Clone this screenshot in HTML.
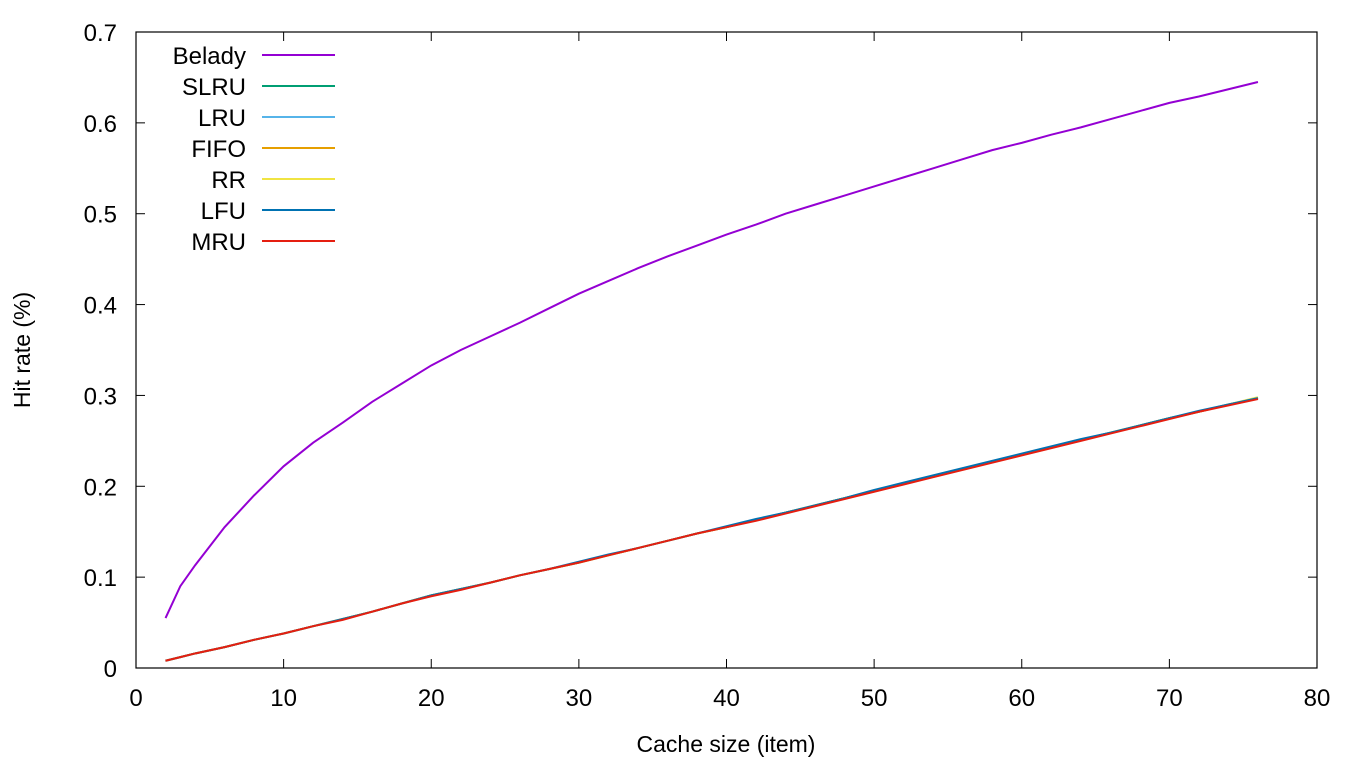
<!DOCTYPE html>
<html><head><meta charset="utf-8"><style>
body{margin:0;background:#fff;}
svg{display:block;font-family:"Liberation Sans","DejaVu Sans",sans-serif;}
</style></head><body>
<svg id="chart" width="1366" height="768"></svg>
<script>
const xTicks=[0,10,20,30,40,50,60,70,80];
const yTicks=[0,0.1,0.2,0.3,0.4,0.5,0.6,0.7];
const yTickLabels=["0","0.1","0.2","0.3","0.4","0.5","0.6","0.7"];
const cacheSizes=[2,3,4,6,8,10,12,14,16,18,20,22,24,26,28,30,32,34,36,38,40,42,44,46,48,50,52,54,56,58,60,62,64,66,68,70,72,74,76];
const belady=[.055,.09,.113,.155,.19,.222,.248,.27,.293,.313,.333,.35,.365,.38,.396,.412,.426,.44,.453,.465,.477,.488,.5,.51,.52,.53,.54,.55,.56,.57,.578,.587,.595,.604,.613,.622,.629,.637,.645];
const slru=[.008,.012,.016,.023,.031,.038,.046,.054,.062,.071,.08,.087,.094,.102,.109,.116,.124,.132,.14,.148,.155,.163,.171,.179,.187,.195,.203,.211,.219,.227,.235,.243,.251,.259,.267,.275,.282,.29,.297];
const lru=[.008,.012,.016,.023,.031,.038,.046,.054,.062,.071,.08,.087,.094,.102,.109,.116,.124,.132,.14,.148,.155,.163,.171,.179,.187,.195,.203,.211,.219,.227,.235,.243,.251,.259,.267,.275,.282,.29,.297];
const fifo=[.008,.012,.016,.023,.031,.038,.046,.054,.062,.071,.08,.087,.094,.102,.109,.116,.124,.132,.14,.148,.155,.163,.171,.179,.187,.195,.203,.211,.219,.227,.235,.243,.251,.259,.267,.275,.282,.29,.297];
const rr=[.008,.012,.016,.023,.031,.038,.046,.054,.062,.071,.08,.087,.094,.102,.109,.116,.124,.132,.14,.148,.155,.163,.171,.179,.187,.195,.203,.211,.219,.227,.235,.243,.251,.259,.267,.275,.282,.29,.298];
const lfu=[.008,.012,.016,.023,.031,.038,.046,.054,.062,.071,.08,.087,.094,.102,.109,.117,.125,.132,.14,.148,.156,.164,.171,.179,.187,.196,.204,.212,.22,.228,.236,.244,.252,.259,.267,.275,.283,.29,.297];
const mru=[.008,.012,.016,.023,.031,.038,.046,.053,.062,.071,.079,.086,.094,.102,.109,.116,.124,.132,.14,.148,.155,.162,.17,.178,.186,.194,.202,.21,.218,.226,.234,.242,.25,.258,.266,.274,.282,.289,.296];
const seriesNames=["Belady","SLRU","LRU","FIFO","RR","LFU","MRU"];
const seriesColors=["#9400d3","#009e73","#56b4e9","#e69f00","#f0e442","#0072b2","#e51e10"];
const seriesData=[belady,slru,lru,fifo,rr,lfu,mru];

const L=136,R=1317,T=32,B=668;
const sx=v=>L+(v-0)/(80-0)*(R-L);
const sy=v=>B-(v-0)/(0.7-0)*(B-T);
const NS="http://www.w3.org/2000/svg";
const svg=document.getElementById('chart');
function mk(tag,attrs,parent){const e=document.createElementNS(NS,tag);for(const k in attrs)e.setAttribute(k,attrs[k]);(parent||svg).appendChild(e);return e;}

xTicks.forEach(v=>{
  const x=sx(v);
  const t1=mk('line',{x1:x,y1:B,x2:x,y2:B-9,stroke:'#000','stroke-width':1});
  
  
  const t2=mk('line',{x1:x,y1:T,x2:x,y2:T+9,stroke:'#000','stroke-width':1});
  
  
  const tx=mk('text',{x:x,y:706,'text-anchor':'middle','font-size':24});
  tx.textContent=v;
  
  
});
yTicks.forEach((v,i)=>{
  const y=sy(v);
  const t1=mk('line',{x1:L,y1:y,x2:L+9,y2:y,stroke:'#000','stroke-width':1});
  
  
  const t2=mk('line',{x1:R,y1:y,x2:R-9,y2:y,stroke:'#000','stroke-width':1});
  
  
  const tx=mk('text',{x:117,y:y+9,'text-anchor':'end','font-size':24});
  tx.textContent=yTickLabels[i];
  
  
});
const frame=mk('rect',{x:L,y:T,width:R-L,height:B-T,fill:'none',stroke:'#000','stroke-width':1.2});



const xt=mk('text',{x:726,y:752,'text-anchor':'middle','font-size':23});
xt.textContent='Cache size (item)';


const yt=mk('text',{x:0,y:0,'text-anchor':'middle','font-size':23,transform:'translate(30,350) rotate(-90)'});
yt.textContent='Hit rate (%)';



seriesData.forEach((d,i)=>{
  const pts=d.map((v,j)=>sx(cacheSizes[j])+','+sy(v)).join(' ');
  const p=mk('polyline',{points:pts,fill:'none',stroke:seriesColors[i],'stroke-width':2});
  
  
});

seriesNames.forEach((n,i)=>{
  const y=55+i*31;
  const g=mk('g',{});
  
  
  const tx=mk('text',{x:246,y:y+9,'text-anchor':'end','font-size':24},g);
  tx.textContent=n;
  mk('line',{x1:262,y1:y,x2:335,y2:y,stroke:seriesColors[i],'stroke-width':2},g);
});
</script>
</body></html>
